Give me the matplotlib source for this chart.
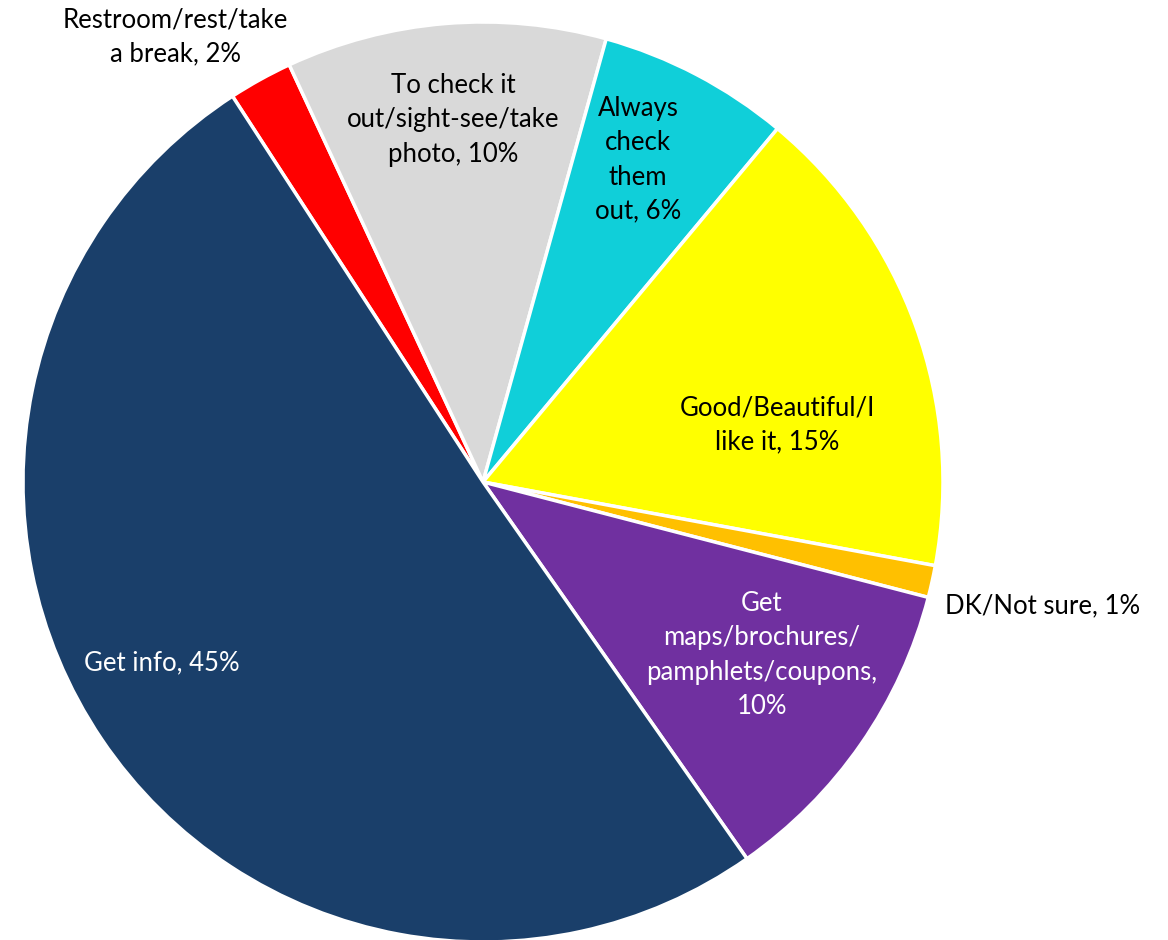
import matplotlib
matplotlib.use('Agg')
import matplotlib.pyplot as plt

# --- data ---
labels = ['Restroom/rest/take\na break',
          'To check it\nout/sight-see/take\nphoto',
          'Always\ncheck\nthem\nout',
          'Good/Beautiful/I\nlike it',
          'DK/Not sure',
          'Get\nmaps/brochures/\npamphlets/coupons,\n',
          'Get info']
values = [2, 10, 6, 15, 1, 10, 45]
colors = ['#FF0000', '#D9D9D9', '#10CFD9', '#FFFF00', '#FFC000', '#7030A0', '#1A3F6A']
text_colors = ['black', 'black', 'black', 'black', 'black', 'white', 'white']

# label anchor points in pixels (x, y from top) and alignment
label_pos = [(175, 37, 'center'), (453, 120, 'center'), (638, 160, 'center'),
             (777, 425, 'center'), (945, 606, 'left'), (762, 655, 'center'),
             (162, 663, 'center')]

W, H = 1168, 940
plt.rcParams['font.family'] = ['Lato', 'DejaVu Sans']

fig = plt.figure(figsize=(W / 100, H / 100), dpi=100)
ax = fig.add_axes([0, 0, 1, 1])

ax.pie(values, colors=colors, startangle=123, counterclock=False,
       center=(483, H - 482), radius=460, frame=True,
       wedgeprops=dict(edgecolor='white', linewidth=2.5))
ax.set_xlim(0, W)
ax.set_ylim(0, H)
ax.set_aspect('equal')
ax.axis('off')

for lab, v, tc, (x, y, ha) in zip(labels, values, text_colors, label_pos):
    if lab.endswith('\n'):
        txt = f'{lab}{v}%'
    else:
        txt = f'{lab}, {v}%'
    ax.text(x, H - y, txt, ha=ha, va='center', color=tc, fontsize=18.5,
            multialignment='center', linespacing=1.46)

fig.savefig('out.png', dpi=100)
